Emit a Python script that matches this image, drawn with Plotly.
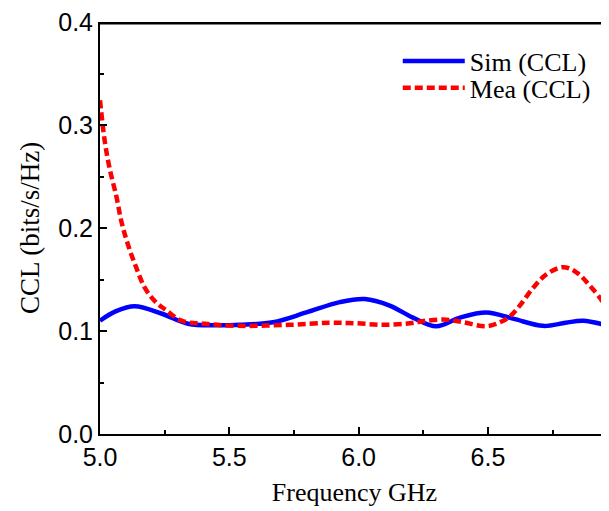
import plotly.graph_objects as go

sim_freq = [5.0, 5.06, 5.134, 5.237, 5.34, 5.45, 5.541, 5.669, 5.798, 5.927, 6.024, 6.12, 6.21, 6.30, 6.391, 6.494, 6.597, 6.713, 6.80, 6.868, 6.967]
sim_ccl = [0.110, 0.119, 0.124, 0.117, 0.107, 0.1055, 0.106, 0.1085, 0.118, 0.128, 0.131, 0.1246, 0.113, 0.1046, 0.113, 0.118, 0.112, 0.105, 0.108, 0.110, 0.105]

mea_freq = [5.0, 5.018, 5.037, 5.063, 5.083, 5.108, 5.141, 5.173, 5.212, 5.257, 5.315, 5.405, 5.534, 5.733, 5.888, 5.99, 6.094, 6.198, 6.262, 6.34, 6.404, 6.494, 6.546, 6.584, 6.623, 6.675, 6.726, 6.79, 6.842, 6.894, 6.945, 6.967]
mea_ccl = [0.324, 0.285, 0.258, 0.231, 0.206, 0.184, 0.161, 0.142, 0.129, 0.120, 0.110, 0.107, 0.105, 0.106, 0.108, 0.1075, 0.106, 0.1075, 0.110, 0.111, 0.1085, 0.1046, 0.1085, 0.114, 0.1246, 0.142, 0.155, 0.162, 0.157, 0.144, 0.128, 0.118]

x_ticks = [5.0, 5.5, 6.0, 6.5]
x_tick_labels = ["5.0", "5.5", "6.0", "6.5"]
y_ticks = [0.0, 0.1, 0.2, 0.3, 0.4]
y_tick_labels = ["0.0", "0.1", "0.2", "0.3", "0.4"]

fig = go.Figure()
fig.add_trace(go.Scatter(x=sim_freq, y=sim_ccl, mode="lines", name="Sim (CCL)", legend="legend",
                         line=dict(color="#0000ff", width=4.5, shape="spline", smoothing=1.0)))
fig.add_trace(go.Scatter(x=mea_freq, y=mea_ccl, mode="lines", name="Mea (CCL)", legend="legend2",
                         line=dict(color="#ff0000", width=4.5, dash="8px,4px", shape="spline", smoothing=1.0)))

serif = "Liberation Serif, Times New Roman, serif"
sans = "Liberation Sans, Arial, sans-serif"

legend_style = dict(xanchor="left", yanchor="top", itemwidth=62,
                    font=dict(family=serif, size=26, color="black"),
                    bgcolor="rgba(0,0,0,0)")

# page body has an 8px margin, so the figure is shifted by 8px
fig.update_layout(
    width=601, height=503,
    margin=dict(l=92, r=0, t=14, b=77),
    plot_bgcolor="white", paper_bgcolor="white",
    showlegend=True,
    legend=dict(x=0.585, y=0.962, **legend_style),
    legend2=dict(x=0.585, y=0.897, **legend_style),
    xaxis=dict(range=[5.0, 6.968], tickvals=x_ticks, ticktext=x_tick_labels,
               ticks="inside", ticklen=7, tickwidth=2, tickcolor="black",
               minor=dict(ticks="inside", ticklen=4, tickwidth=2, tickcolor="black", dtick=0.25, tick0=5.0),
               showline=True, linecolor="black", linewidth=2, mirror=False,
               showgrid=False, zeroline=False, automargin=False,
               ticklabeloverflow="allow",
               tickfont=dict(family=sans, size=25, color="black"),
               title=dict(text="Frequency GHz", font=dict(family=serif, size=26, color="black"), standoff=13)),
    yaxis=dict(range=[0, 0.4], tickvals=y_ticks, ticktext=y_tick_labels,
               ticks="inside", ticklen=7, tickwidth=2, tickcolor="black",
               minor=dict(ticks="inside", ticklen=4, tickwidth=2, tickcolor="black", dtick=0.05, tick0=0),
               showline=True, linecolor="black", linewidth=2, mirror=False,
               showgrid=False, zeroline=False, automargin=False,
               ticklabeloverflow="allow",
               tickfont=dict(family=sans, size=25, color="black"),
               title=dict(text="CCL (bits/s/Hz)", font=dict(family=serif, size=27, color="black"), standoff=11)),
    shapes=[dict(type="line", xref="paper", yref="paper", x0=0, x1=1, y0=0.997, y1=0.997,
                 line=dict(color="black", width=2.5), layer="above")],
)

fig.write_html("out.html", config={"displayModeBar": False})
